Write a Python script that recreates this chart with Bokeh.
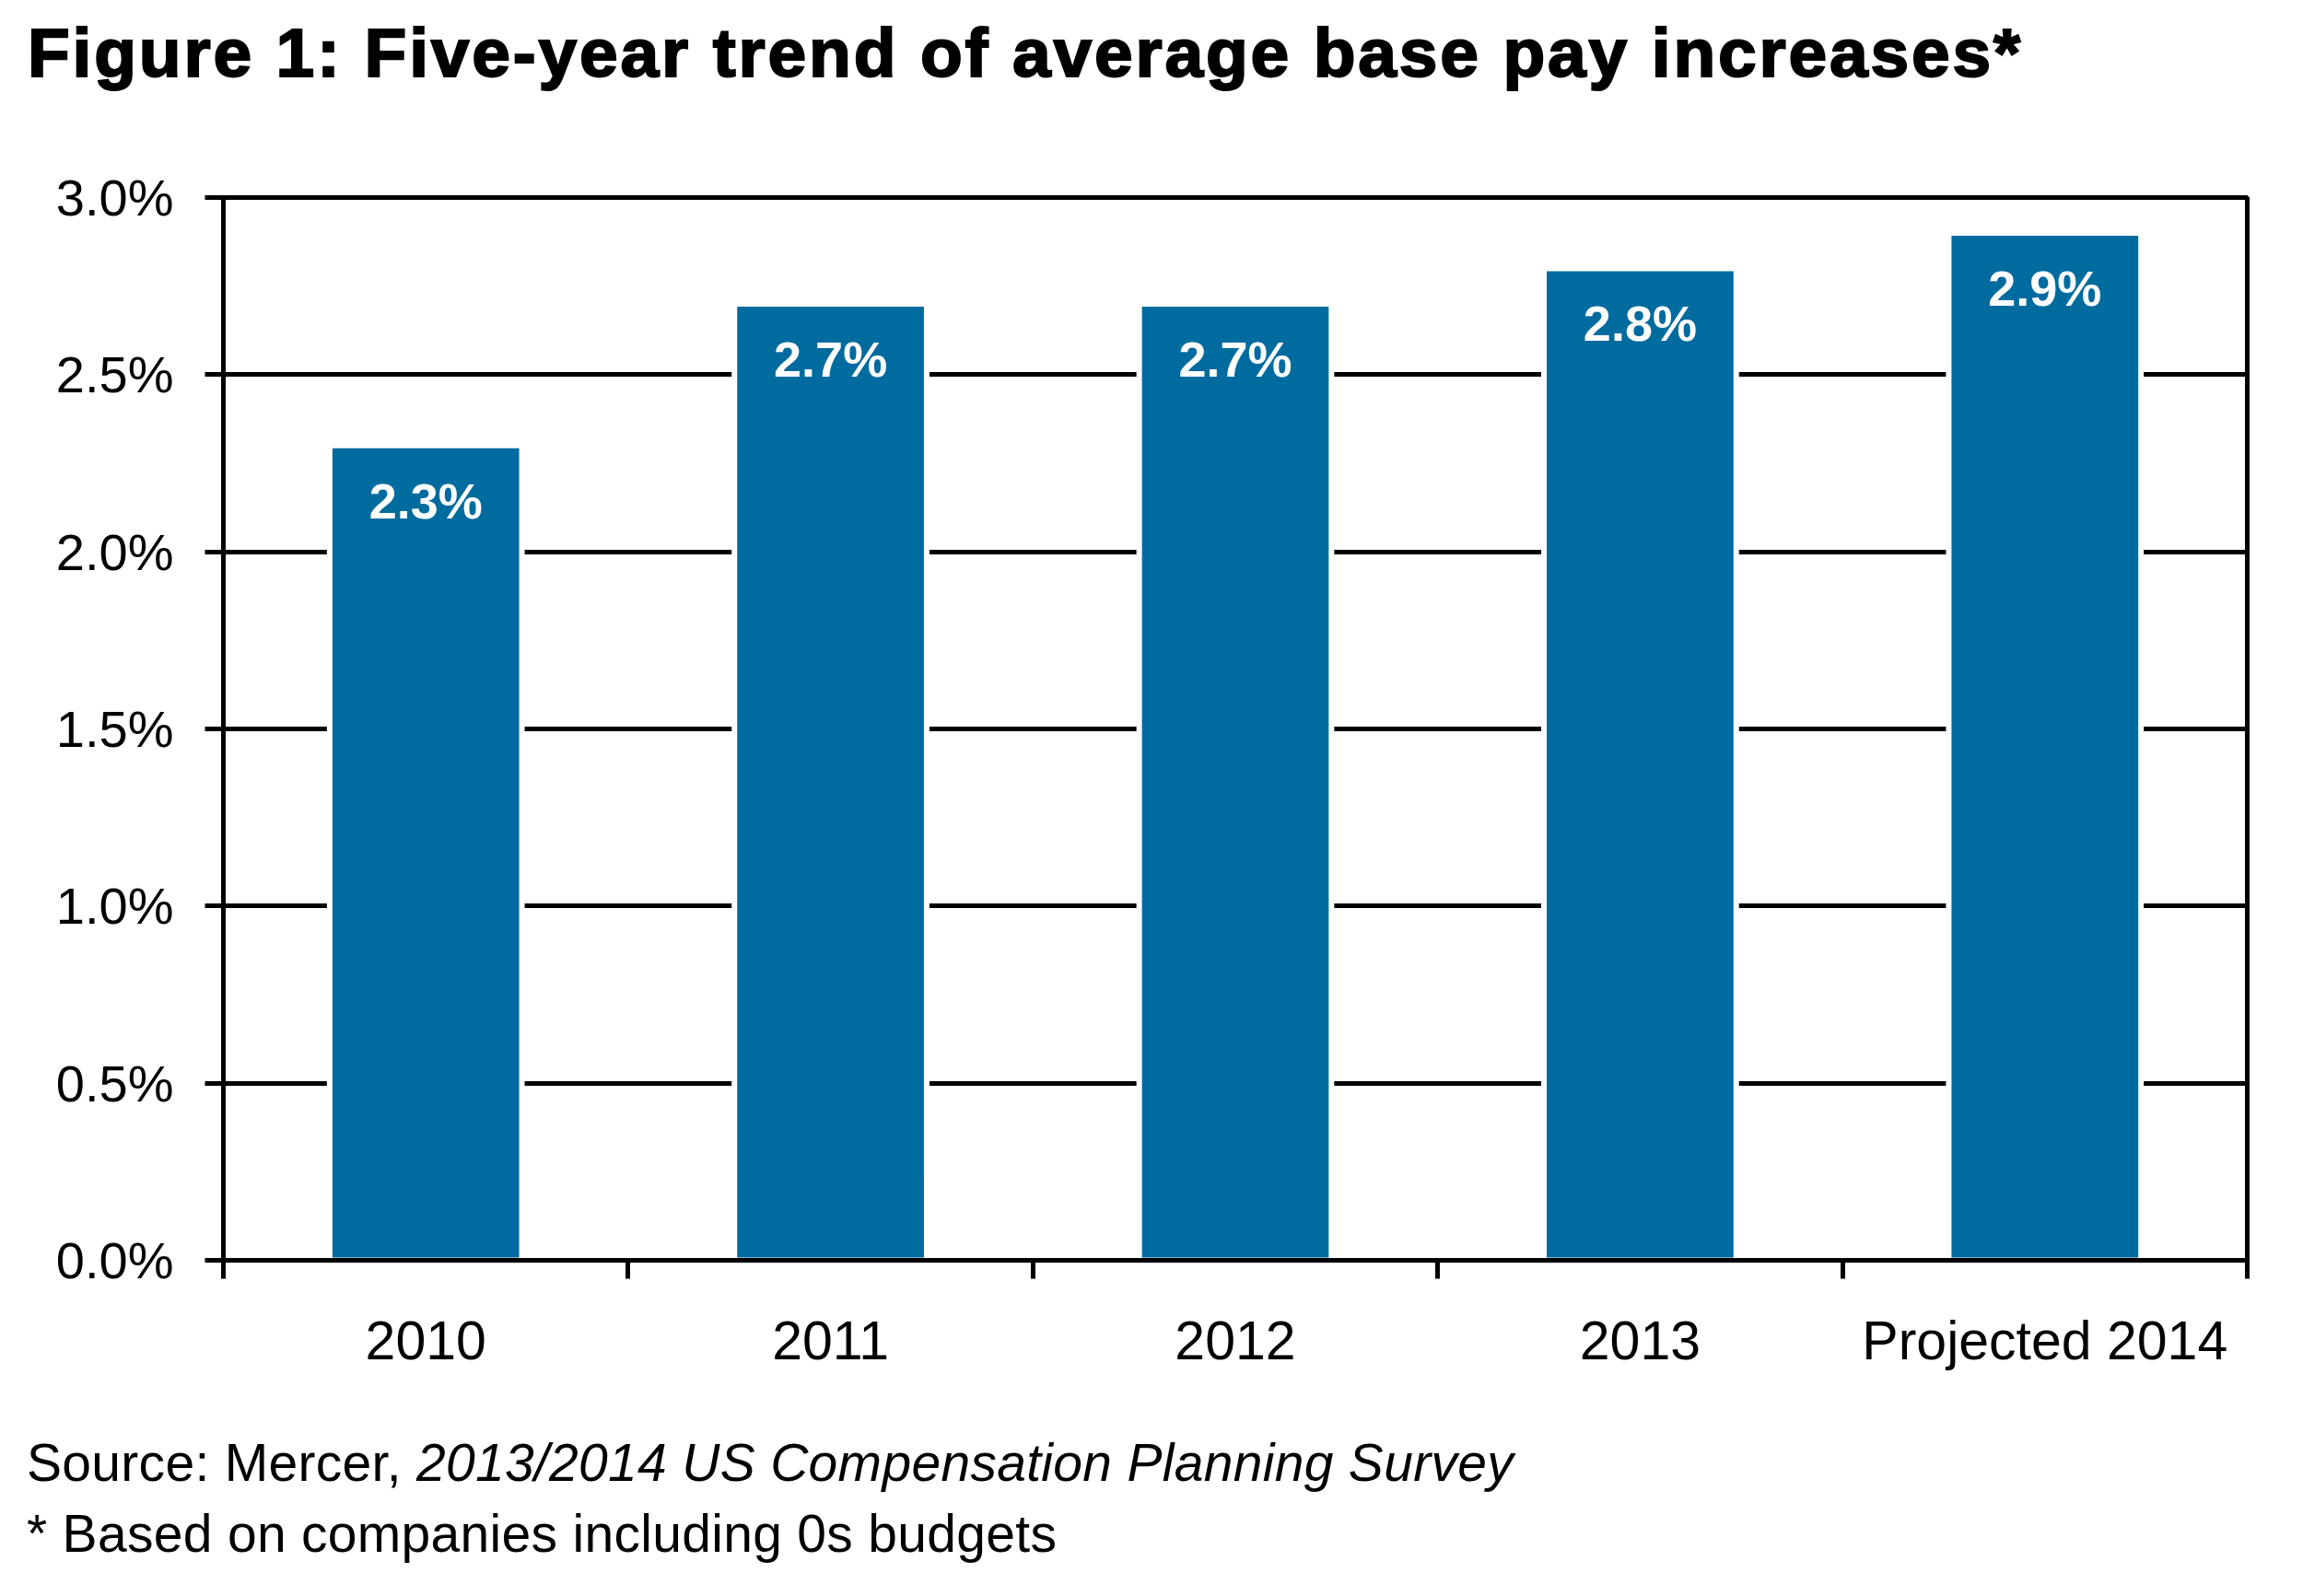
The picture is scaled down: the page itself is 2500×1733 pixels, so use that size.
from bokeh.plotting import figure
from bokeh.models import (ColumnDataSource, Range1d, FixedTicker, LinearAxis, Grid, Div)
from bokeh.layouts import column
from bokeh.core.properties import value
from bokeh.embed import file_html
from bokeh.resources import INLINE

# ---- data ----
categories = ["2010", "2011", "2012", "2013", "Projected 2014"]
increases = [2.3, 2.7, 2.7, 2.8, 2.9]
bar_labels = ["2.3%", "2.7%", "2.7%", "2.8%", "2.9%"]
y_ticks = [0.0, 0.5, 1.0, 1.5, 2.0, 2.5, 3.0]
y_tick_labels = ["0.0%", "0.5%", "1.0%", "1.5%", "2.0%", "2.5%", "3.0%"]
title_text = "Figure 1: Five-year trend of average base pay increases*"
source_prefix = "Source: Mercer, "
source_italic = "2013/2014 US Compensation Planning Survey"
footnote = "* Based on companies including 0s budgets"

FONT = "Liberation Sans"
BAR_COLOR = "#006B9E"
W = 2484

xs = [i + 0.5 for i in range(len(categories))]
src = ColumnDataSource(dict(x=xs, top=increases, label=bar_labels))

# ---- title ----
title_div = Div(width=W, height=130, text=(
    f'<div style="font-family:\'{FONT}\'; font-weight:bold; font-size:75px; '
    f'line-height:75px; letter-spacing:2.8px; color:black; white-space:nowrap; '
    f'-webkit-text-stroke:2px black; '
    f'padding-top:15px; padding-left:25px;">{title_text}</div>'))

# ---- chart ----
p = figure(width=W, height=1380, output_backend="svg", toolbar_location=None,
           x_range=Range1d(0, len(categories)), y_range=Range1d(0, 3.0),
           x_axis_type=None, y_axis_type=None,
           min_border_left=242, min_border_right=45,
           min_border_top=74, min_border_bottom=152)
p.background_fill_color = "white"
p.border_fill_color = "white"
p.outline_line_color = "black"
p.outline_line_width = 5

yax = LinearAxis(ticker=FixedTicker(ticks=y_ticks),
                 major_label_overrides={t: l for t, l in zip(y_ticks, y_tick_labels)})
yax.axis_line_width = 5
yax.axis_line_color = "black"
yax.major_tick_out = 20
yax.major_tick_in = 0
yax.major_tick_line_width = 5
yax.minor_tick_line_color = None
yax.major_label_standoff = 34
yax.major_label_text_font = FONT
yax.major_label_text_font_size = "56px"
yax.major_label_text_color = "black"
p.add_layout(yax, "left")

xax = LinearAxis(ticker=FixedTicker(ticks=xs, minor_ticks=list(range(len(categories) + 1))),
                 major_label_overrides={x: c for x, c in zip(xs, categories)})
xax.axis_line_width = 5
xax.axis_line_color = "black"
xax.major_tick_line_color = None
xax.major_tick_out = 0
xax.major_tick_in = 0
xax.minor_tick_out = 20
xax.minor_tick_in = 0
xax.minor_tick_line_width = 5
xax.minor_tick_line_color = "black"
xax.major_label_standoff = 34
xax.major_label_text_font = FONT
xax.major_label_text_font_size = "59px"
xax.major_label_text_color = "black"
p.add_layout(xax, "below")

g = Grid(dimension=1, ticker=yax.ticker)
g.grid_line_color = "black"
g.grid_line_width = 5
p.add_layout(g)

p.vbar(x="x", top="top", bottom=0, width=0.475, source=src,
       fill_color=BAR_COLOR, line_color="white", line_width=6)

p.text(x="x", y="top", text="label", source=src, y_offset=60,
       text_align="center", text_baseline="middle",
       text_color="white", text_font=value(FONT), text_font_style="bold",
       text_font_size="54px")

# ---- footer ----
footer_div = Div(width=W, height=205, text=(
    f'<div style="font-family:\'{FONT}\'; font-size:57px; line-height:77px; '
    f'letter-spacing:0.3px; color:black; white-space:nowrap; padding-top:25px; padding-left:24px;">'
    f'{source_prefix.replace(" ", "&nbsp;")}<i>{source_italic}</i><br>{footnote}</div>'))

layout = column(title_div, p, footer_div)
open("out.html", "w").write(file_html(layout, INLINE))
